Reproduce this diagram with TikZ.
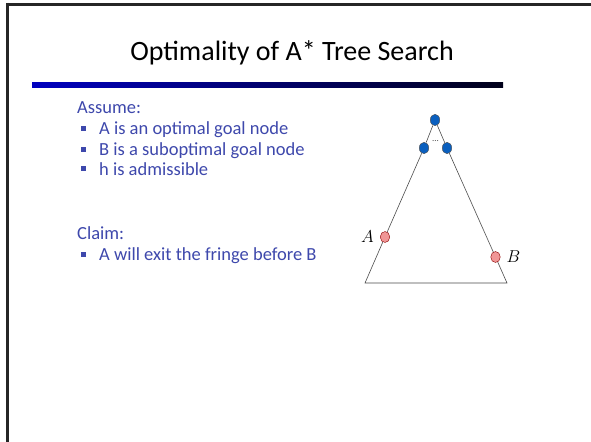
\documentclass[tikz,border=0pt]{standalone}
\usepackage{fontspec}
\setmainfont{Carlito}
\usetikzlibrary{positioning, shapes.geometric}

\definecolor{slideblue}{RGB}{62, 72, 172}
\definecolor{treeblue}{RGB}{10, 95, 190}
\definecolor{goalpink}{RGB}{240, 150, 150}

\begin{document}
\begin{tikzpicture}[
      x=1bp, y=-1bp,
      title/.style={font=\fontsize{28bp}{34bp}\selectfont, inner sep=0pt, anchor=base},
      head/.style={text=slideblue, font=\fontsize{18.5bp}{22bp}\selectfont,
                   inner sep=0pt, anchor=base west},
      item/.style={head},
      bul/.style={fill=slideblue, minimum size=5bp, inner sep=0pt},
      tnode/.style={ellipse, draw=black!70, fill=treeblue, line width=0.4bp,
                    minimum width=9.5bp, minimum height=11.5bp, inner sep=0pt},
      gnode/.style={ellipse, draw=red!55!black, fill=goalpink, line width=0.4bp,
                    minimum width=9.5bp, minimum height=11bp, inner sep=0pt},
      edge/.style={draw=black!70, line width=0.6bp}
    ]
    \useasboundingbox (0,0) rectangle (591,442);
    \fill[white] (0,0) rectangle (591,442);

    % slide frame
    \draw[black!85, line width=3bp] (7,4.5) -- (591,4.5);
    \draw[black!85, line width=3bp] (7.5,3) -- (7.5,442);

    % title and bar
    \node[title] (ttl) at (292,61) {Optimality of A* Tree Search};
    \shade[left color=blue!75!black, right color=black!90!blue] (32,83) rectangle (503,88);

    % assumptions
    \node[head] (assume) at (77,114) {Assume:};
    \node[item] (a1) at (99,135) {A is an optimal goal node};
    \node[item] (a2) at (99,155.5) {B is a suboptimal goal node};
    \node[item] (a3) at (99,176) {h is admissible};
    \node[head] (claim) at (77,240) {Claim:};
    \node[item] (c1) at (99,261) {A will exit the fringe before B};
    \foreach \n in {a1, a2, a3, c1}
      \node[bul, left=13bp of \n.west, yshift=1.5bp] {};

    % the tree
    \node[tnode] (root) at (435,120) {};
    \node[tnode] (lkid) at (424,148) {};
    \node[tnode] (rkid) at (447,148) {};
    \node[font=\fontsize{9bp}{9bp}\selectfont, text=black!70, inner sep=0pt] (dots) at (435.5,141) {...};
    \coordinate (bl) at (365,283);
    \coordinate (br) at (507,283);
    \node[gnode] (ga) at (385,237) {};
    \node[gnode] (gb) at (495.5,257) {};
    \node[left=5bp of ga, font=\fontsize{16bp}{18bp}\selectfont, inner sep=1bp] (la) {$A$};
    \node[right=5bp of gb, font=\fontsize{16bp}{18bp}\selectfont, inner sep=1bp] (lb) {$B$};

    \draw[edge] (root) -- (lkid);
    \draw[edge] (root) -- (rkid);
    \draw[edge] (lkid) -- (ga);
    \draw[edge] (ga) -- (bl) -- (br) -- (gb);
    \draw[edge] (rkid) -- (gb);
  \end{tikzpicture}
\end{document}
